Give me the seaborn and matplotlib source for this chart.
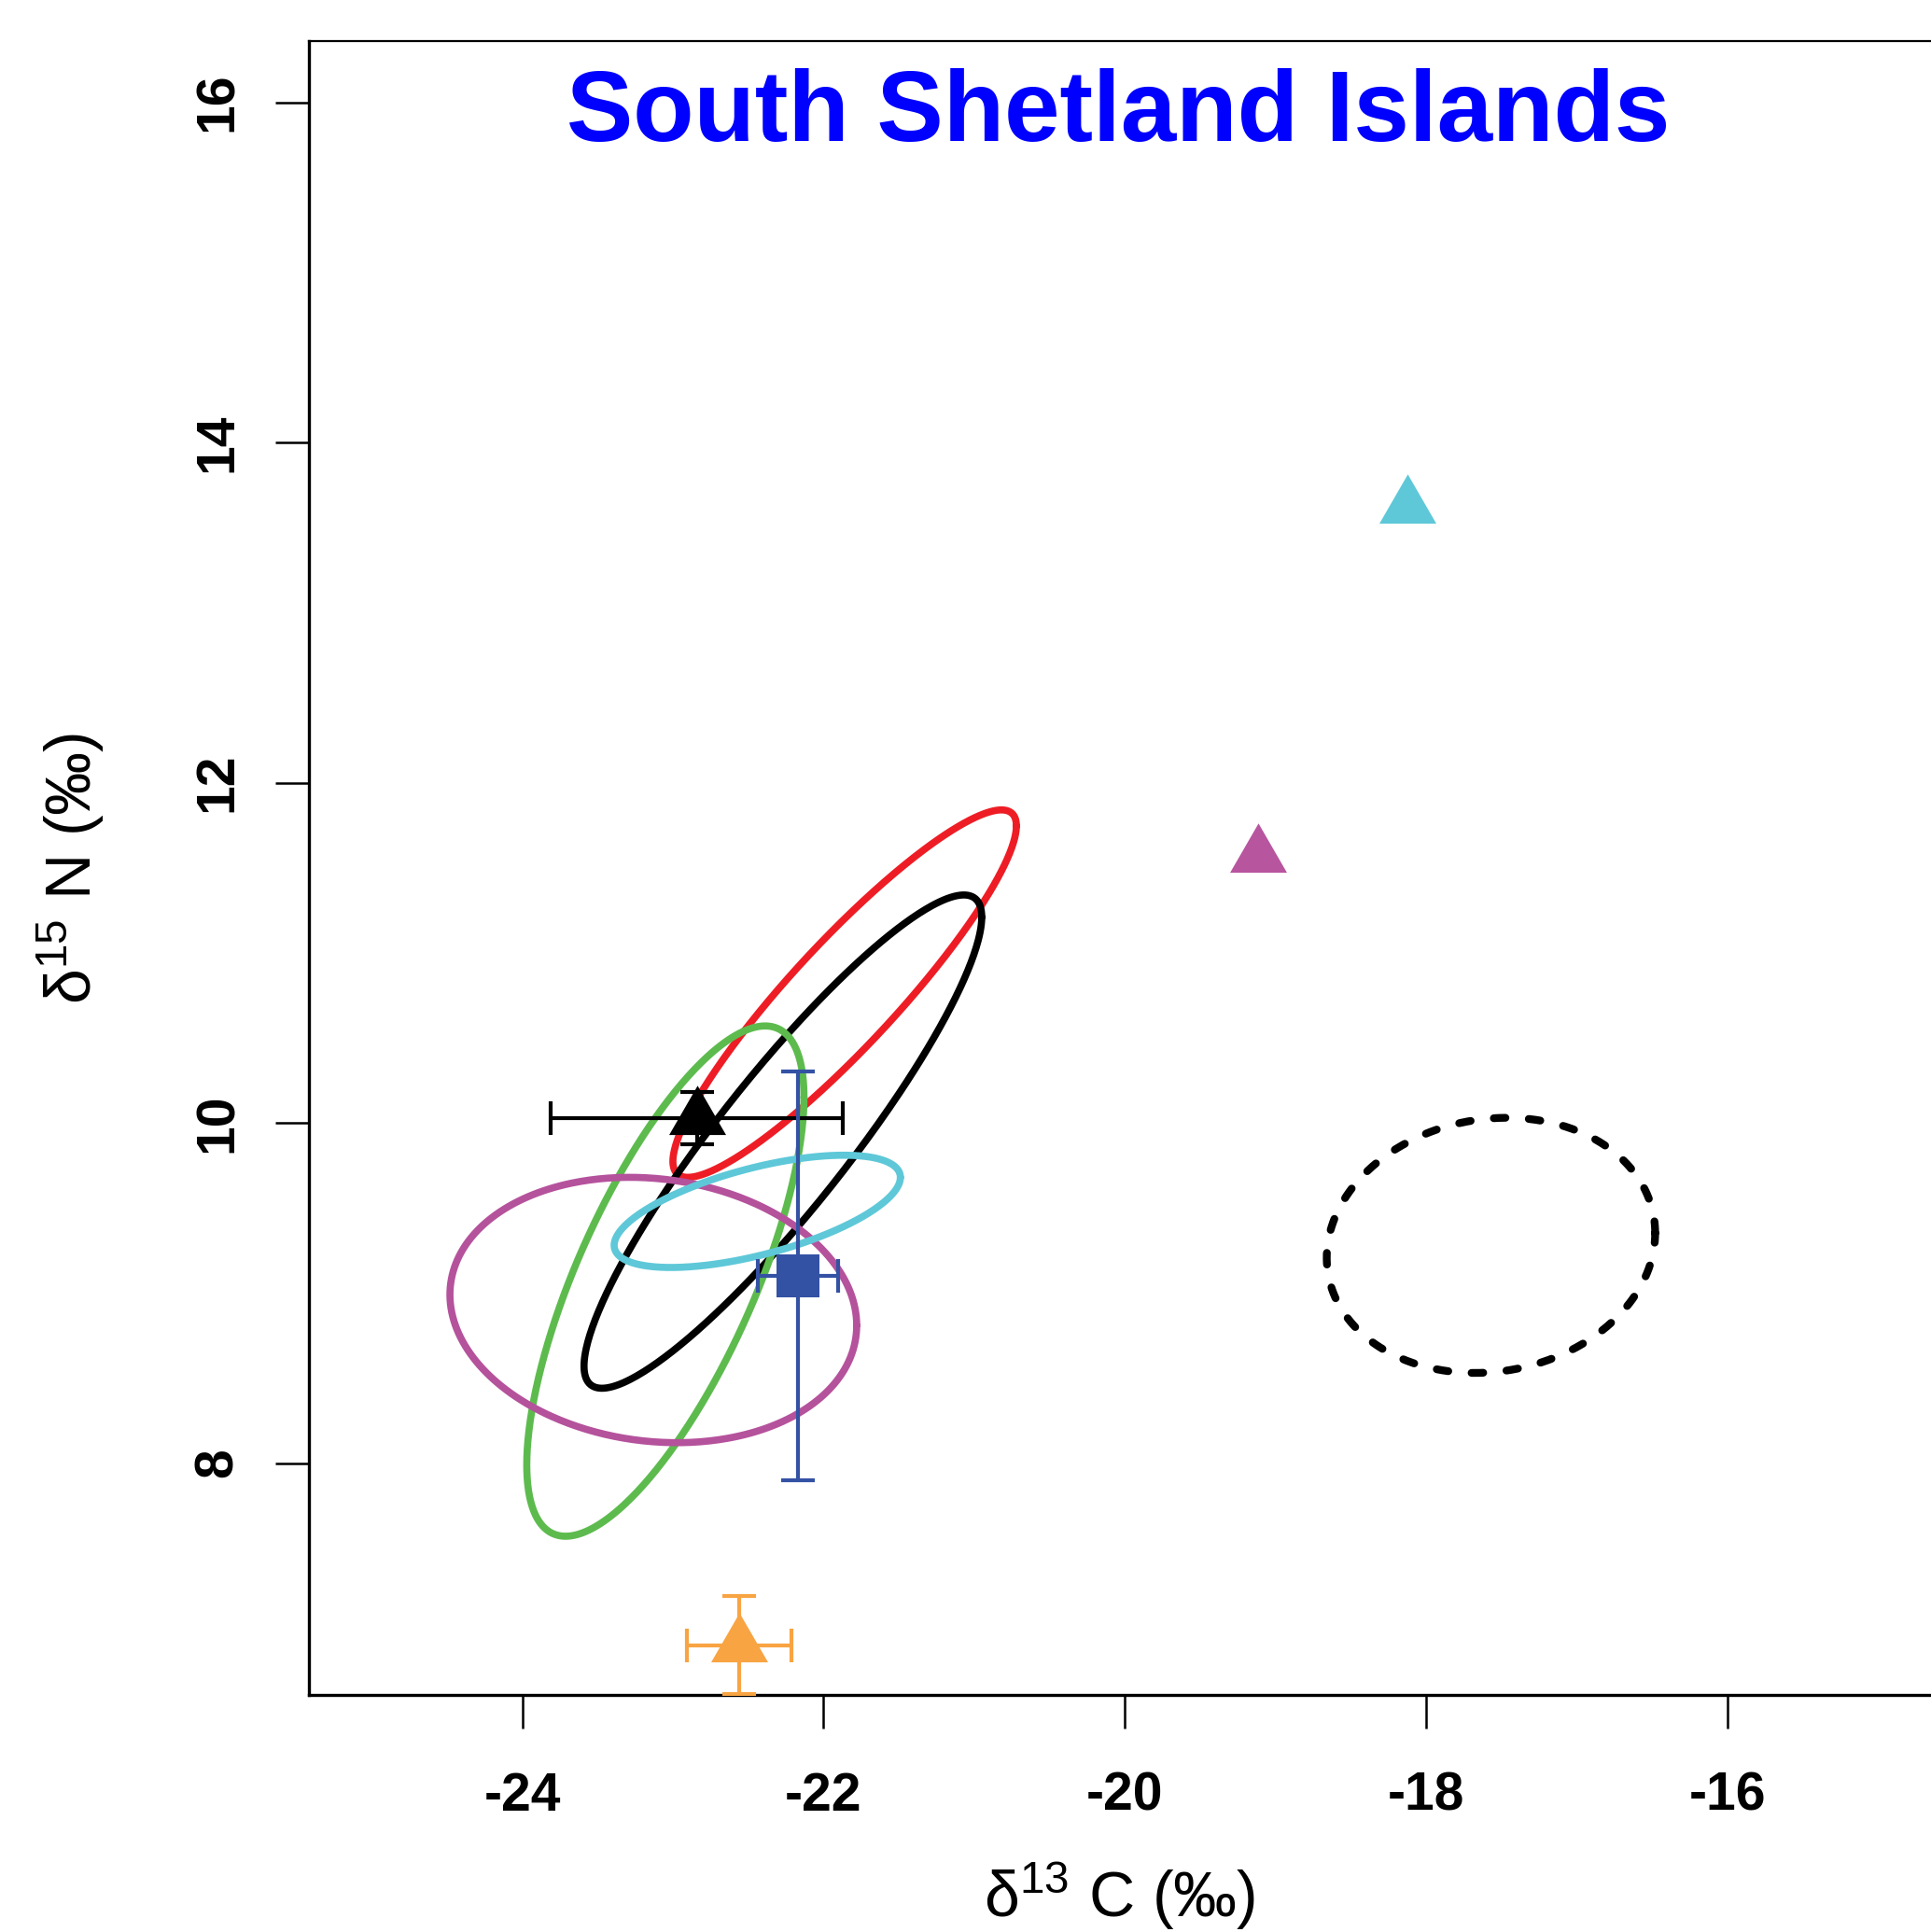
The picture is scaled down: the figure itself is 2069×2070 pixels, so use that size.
import numpy as np
import pandas as pd
import seaborn as sns
import matplotlib.pyplot as plt

# standard ellipses: centre, sd(d13C), sd(d15N), correlation
ell_cx = [-21.86, -22.27, -23.05, -23.13, -22.44, -17.57]
ell_cy = [10.76, 9.89, 9.07, 8.90, 9.48, 9.28]
ell_sx = [1.14, 1.32, 0.92, 1.35, 0.95, 1.09]
ell_sy = [1.08, 1.45, 1.50, 0.78, 0.33, 0.75]
ell_r = [0.913, 0.91, 0.72, -0.116, 0.604, 0.097]
ell_colors = ['#EE1D25', '#000000', '#5DBB4E', '#B5529C', '#5EC8D8', '#000000']
ell_dashed = [False, False, False, False, False, True]

# prey / source means with sd
src_x = [-22.84, -22.17, -22.56]
src_y = [10.03, 9.10, 6.93]
src_xerr = [0.97, 0.264, 0.347]
src_yerr = [0.154, 1.20, 0.286]
src_colors = ['#000000', '#3452A4', '#F8A443']
src_markers = ['tri', 'sq', 'tri']

# single points
pt_x = [-18.125, -19.116]
pt_y = [13.62, 11.57]
pt_colors = ['#5EC8D8', '#B8559F']

xticks = [-24, -22, -20, -18, -16]
yticks = [8, 10, 12, 14, 16]

sns.set_theme(style='ticks')
plt.rcParams['font.family'] = ['Liberation Sans', 'DejaVu Sans']
plt.rcParams['mathtext.fontset'] = 'custom'
plt.rcParams['mathtext.rm'] = 'Liberation Sans'
plt.rcParams['mathtext.it'] = 'Liberation Sans:italic'
plt.rcParams['axes.unicode_minus'] = False
for k in ['text.color', 'axes.labelcolor', 'xtick.color', 'ytick.color', 'axes.edgecolor']:
    plt.rcParams[k] = 'black'

fig = plt.figure(figsize=(20.69, 20.70), dpi=100)
ax = fig.add_axes([331 / 2069, 1 - 1816 / 2070, 1 - 331 / 2069, (1816 - 44) / 2070])

t = np.linspace(0, 2 * np.pi, 400)
for cx, cy, sx, sy, r, col, dsh in zip(ell_cx, ell_cy, ell_sx, ell_sy, ell_r, ell_colors, ell_dashed):
    cov = np.array([[sx * sx, r * sx * sy], [r * sx * sy, sy * sy]])
    L = np.linalg.cholesky(cov)
    pts = np.array([cx, cy])[:, None] + L @ np.vstack([np.cos(t), np.sin(t)])
    df = pd.DataFrame({'x': pts[0], 'y': pts[1]})
    if dsh:
        sns.lineplot(data=df, x='x', y='y', sort=False, estimator=None, color=col,
                     lw=6.0, linestyle=(0, (1.5, 3.0)), dash_capstyle='round', ax=ax)
    else:
        sns.lineplot(data=df, x='x', y='y', sort=False, estimator=None, color=col,
                     lw=5.5, ax=ax)

tri = [(-1, -0.577), (1, -0.577), (0, 1.155)]
for x, y, xe, ye, col, m in zip(src_x, src_y, src_xerr, src_yerr, src_colors, src_markers):
    ax.errorbar(x, y, xerr=xe, yerr=ye, fmt='none', ecolor=col, elinewidth=3.0,
                capsize=13.3, capthick=3.0, zorder=5)
    if m == 'tri':
        sns.scatterplot(x=[x], y=[y], marker=tri, s=50.7 ** 2, color=col, linewidth=0, ax=ax, zorder=6)
    else:
        sns.scatterplot(x=[x], y=[y], marker='s', s=33 ** 2, color=col, linewidth=0, ax=ax, zorder=6)

for x, y, col in zip(pt_x, pt_y, pt_colors):
    sns.scatterplot(x=[x], y=[y], marker=tri, s=50.7 ** 2, color=col, linewidth=0, ax=ax, zorder=6)

ax.set_xlim(-25.416, -14.649)
ax.set_ylim(6.637, 16.36)
ax.set_xticks(xticks)
ax.set_xticklabels([str(v) for v in xticks], fontsize=41, fontweight='bold')
ax.set_yticks(yticks)
ax.set_yticklabels([str(v) for v in yticks], fontsize=41, fontweight='bold', rotation=90, va='center')
ax.tick_params(axis='both', direction='out', length=26, width=1.8, color='black')
ax.tick_params(axis='x', pad=33)
ax.tick_params(axis='y', pad=24.5)

ax.spines['right'].set_visible(False)
ax.spines['top'].set_linewidth(1.6)
ax.spines['left'].set_linewidth(2.4)
ax.spines['bottom'].set_linewidth(2.4)
for s in ax.spines.values():
    s.set_color('black')

ax.set_xlabel(r'$\mathrm{\delta}^{13}$ C (‰)', fontsize=49)
ax.set_ylabel(r'$\mathrm{\delta}^{15}$ N (‰)', fontsize=49)
ax.xaxis.set_label_coords(0.5, -0.0999)
ax.yaxis.set_label_coords(-0.1249, 0.5)

ax.text(0.499, 0.9396, 'South Shetland Islands', transform=ax.transAxes, ha='center',
        va='baseline', fontsize=77, fontweight='bold', color='#0000FF')

fig.savefig('out.png', dpi=100)
